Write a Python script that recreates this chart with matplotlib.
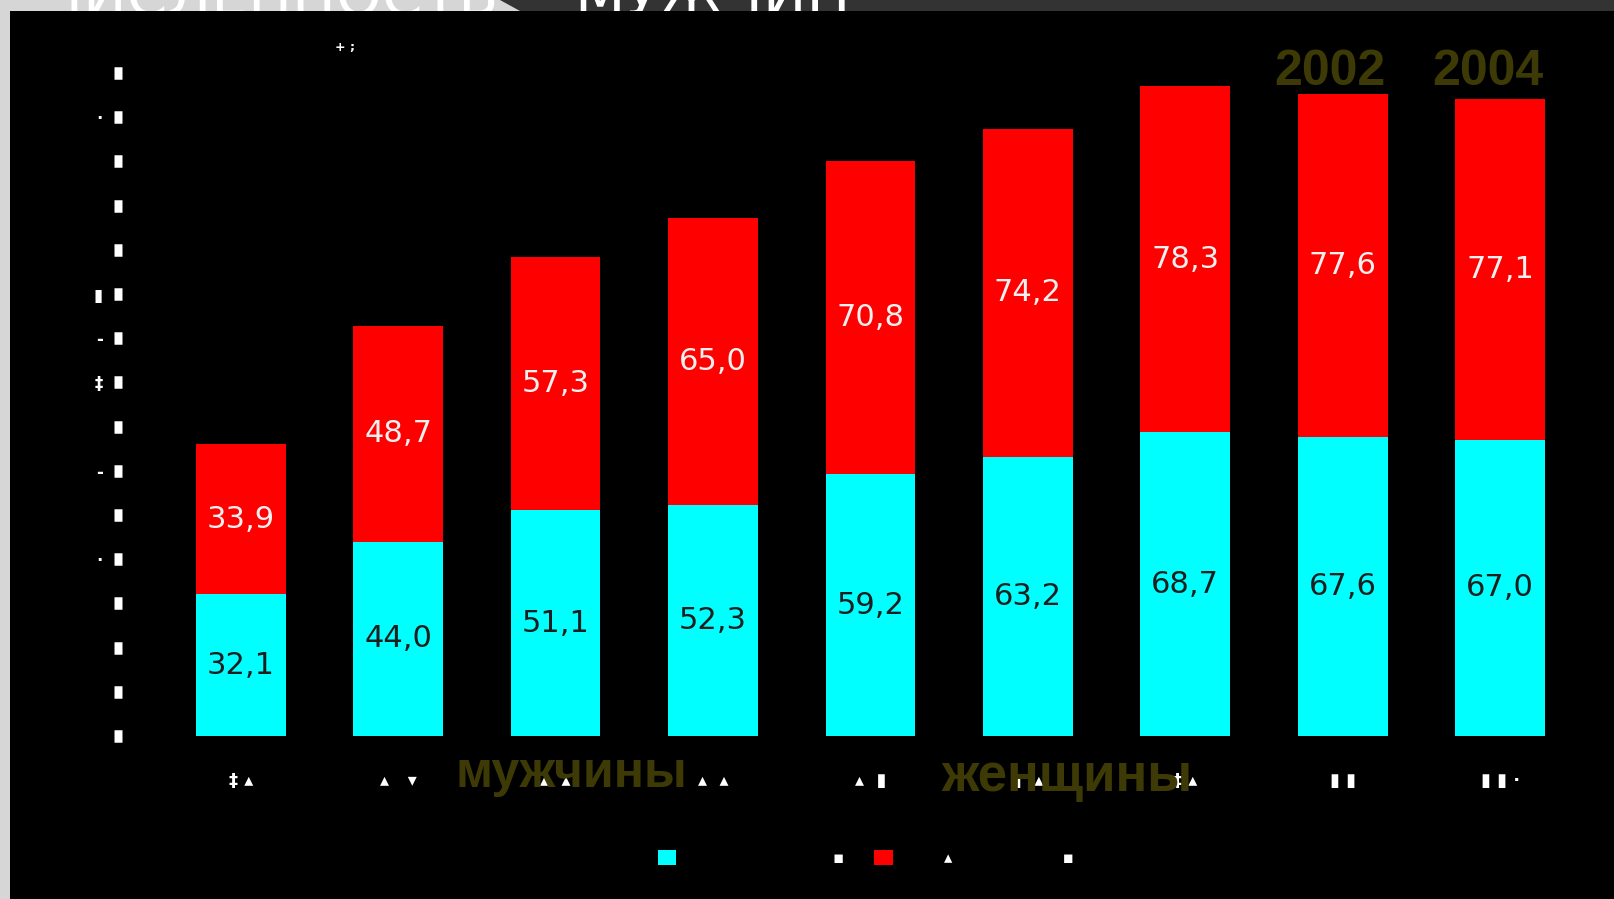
import matplotlib
matplotlib.use("Agg")
import matplotlib.pyplot as plt
from matplotlib.patches import Rectangle, Polygon

# values
men = [32.1, 44.0, 51.1, 52.3, 59.2, 63.2, 68.7, 67.6, 67.0]
women = [33.9, 48.7, 57.3, 65.0, 70.8, 74.2, 78.3, 77.6, 77.1]
# the tick labels in the source are broken glyphs
xtick_marks = ["‡ ▴", "▴   ▾", "▴  ▴", "▴  ▴", "▴  ▮", "▮  ▴", "‡ ▴", "▮ ▮", "▮ ▮ ·"]
yticks = list(range(0, 151, 10))
ytick_marks = ["", "", "", "", "·", "", "-", "", "‡", "-", "▮", "", "", "", "·", ""]
year_labels = {7: "2002", 8: "2004"}
legend_labels = [" " * 20 + "▪", "▴" + " " * 21 + "▪"]

W, H = 1615, 899
CYAN = "#00ffff"
RED = "#ff0000"
OLIVE = "#3d3a06"
NARROW = ["Liberation Sans Narrow", "Liberation Sans", "DejaVu Sans"]

fig = plt.figure(figsize=(W / 100, H / 100), dpi=100)
fig.patch.set_facecolor("#d6d6d6")

# dark strip on the top right, black panel below
fig.patches.append(Polygon([(500 / W, 1), (520 / W, 1 - 11 / H), (1, 1 - 11 / H), (1, 1)],
                           closed=True, transform=fig.transFigure, facecolor="#333333",
                           edgecolor="none", zorder=0.2))
fig.patches.append(Rectangle((10 / W, 0), 1 - 10 / W, 1 - 11 / H, transform=fig.transFigure,
                             facecolor="black", edgecolor="none", zorder=0.5))

# clipped title, only the bottom of the letters shows
fig.text(43 / W, 1 - 15 / H, "ЧИСЛЕННОСТЬ", color="white", fontsize=42, zorder=0.3)
fig.text(574 / W, 1 - 15 / H, "МУЖЧИН", color="white", fontsize=42, zorder=0.3)

ax = fig.add_axes([118 / W, (H - 736) / H, 1 - 118 / W, 663 / H])
ax.set_zorder(1)
ax.set_facecolor("black")

x = list(range(len(men)))
ax.bar(x, men, width=0.57, color=CYAN, label="мужчины")
ax.bar(x, women, width=0.57, bottom=men, color=RED, label="женщины")

for i in x:
    ax.text(i, men[i] / 2, f"{men[i]:.1f}".replace(".", ","), ha="center", va="center",
            fontsize=22, color="#1e1e1e")
    ax.text(i, men[i] + women[i] / 2, f"{women[i]:.1f}".replace(".", ","), ha="center",
            va="center", fontsize=22, color="#f0f0f0")

for i, lab in year_labels.items():
    ax.text(i - 0.08, 147.3, lab, ha="center", va="baseline", fontsize=36,
            fontweight="bold", color=OLIVE, family=NARROW, clip_on=False)

ax.text(2.10, -11.5, "мужчины", ha="center", va="baseline", fontsize=36, fontweight="bold",
        color=OLIVE, family=NARROW, clip_on=False, zorder=5)
ax.text(5.25, -12.4, "женщины", ha="center", va="baseline", fontsize=38, fontweight="bold",
        color=OLIVE, family=NARROW, clip_on=False, zorder=5)

ax.set_xlim(-0.78, 8.73)
ax.set_ylim(0, 150)
for s in ax.spines.values():
    s.set_visible(False)

ax.set_xticks(x)
ax.set_xticklabels(xtick_marks, color="white", fontsize=13, fontweight="bold")
ax.tick_params(axis="x", length=0, pad=26)
ax.set_yticks(yticks)
ax.set_yticklabels(ytick_marks, color="white", fontsize=12, fontweight="bold")
ax.tick_params(axis="y", direction="inout", length=5.5, width=9, color="white", pad=8)

fig.text(345 / W, 1 - 48 / H, "+ ;", color="white", fontsize=9, fontweight="bold",
         ha="center", va="center", zorder=2)

leg = fig.legend(legend_labels, loc="center left", bbox_to_anchor=(658 / W, (H - 858) / H),
                 ncol=2, frameon=False, fontsize=12, handlelength=1.1, handleheight=1.0,
                 handletextpad=3.1, columnspacing=1.8, borderpad=0, borderaxespad=0)
for t in leg.get_texts():
    t.set_color("white")

plt.savefig("out.png", dpi=100, facecolor=fig.get_facecolor())
